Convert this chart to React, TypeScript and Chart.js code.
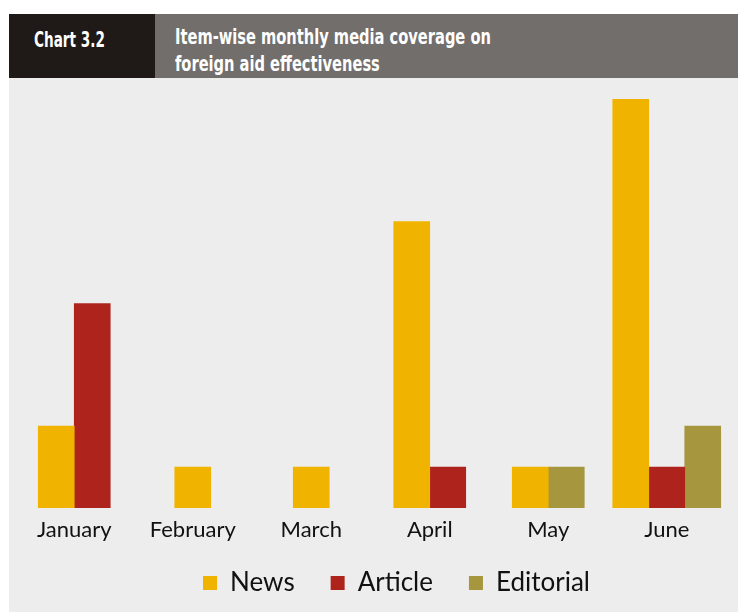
import React, { useEffect, useRef } from "react";
import { Chart, registerables } from "chart.js";

Chart.register(...registerables);

const months = ["January", "February", "March", "April", "May", "June"];
const newsValues = [2, 1, 1, 7, 1, 10];
const articleValues = [5, null, null, 1, null, 1];
const editorialValues = [null, null, null, null, 1, 2];
const seriesNames = ["News", "Article", "Editorial"];
const chartLabel = "Chart 3.2";
const titleLines = ["Item-wise monthly media coverage on", "foreign aid effectiveness"];

const COLORS = ["#f0b400", "#ae241c", "#a6973e"];

const legendShift = {
  id: "legendShift",
  afterLayout(chart: any) {
    const lg = chart.legend;
    if (lg) {
      lg.left += 26;
      lg.right += 26;
    }
  },
};

export default function App() {
  const ref = useRef<HTMLCanvasElement | null>(null);

  useEffect(() => {
    if (!ref.current) return;
    const chart = new Chart(ref.current, {
      type: "bar",
      data: {
        labels: months,
        datasets: [newsValues, articleValues, editorialValues].map((d, i) => ({
          label: seriesNames[i],
          data: d,
          backgroundColor: COLORS[i],
          borderWidth: 0,
          barThickness: 36,
          skipNull: true,
        })) as any,
      },
      options: {
        animation: false,
        responsive: false,
        maintainAspectRatio: false,
        layout: { padding: { top: 21, left: 6, right: 12, bottom: 6 } },
        scales: {
          x: {
            grid: { display: false, drawTicks: false },
            border: { display: false },
            ticks: {
              color: "#111",
              font: { family: "Lato, 'Open Sans', sans-serif", size: 22 },
              padding: 9,
            },
            afterFit(scale: any) {
              scale.height = 26;
              scale._computeLabelArea = () => undefined;
            },
          } as any,
          y: { display: false, min: 0, max: 10 },
        },
        plugins: {
          legend: {
            position: "bottom",
            labels: {
              boxWidth: 14,
              boxHeight: 14,
              padding: 36,
              color: "#111",
              font: { family: "Lato, 'Open Sans', sans-serif", size: 26 },
            },
          },
          tooltip: { enabled: false },
        },
      },
      plugins: [legendShift],
    });
    return () => chart.destroy();
  }, []);

  const headFont = "'Liberation Sans Narrow', 'DejaVu Sans Condensed', 'DejaVu Sans', sans-serif";

  return (
    <div style={{ position: "absolute", left: 0, top: 0, width: 738, height: 612, background: "#fff", overflow: "hidden" }}>
      <div
        style={{
          position: "absolute",
          left: 9,
          top: 14,
          width: 146,
          height: 64,
          background: "#1f1a17",
          color: "#fff",
          fontFamily: headFont,
          fontWeight: 700,
          fontSize: 21,
          lineHeight: "26px",
          boxSizing: "border-box",
          paddingLeft: 25,
          paddingTop: 13,
          whiteSpace: "nowrap",
        }}
      >
        <span style={{ display: "inline-block", transform: "scaleX(0.72)", transformOrigin: "left center" }}>{chartLabel}</span>
      </div>
      <div
        style={{
          position: "absolute",
          left: 155,
          top: 14,
          width: 583,
          height: 64,
          background: "#716e6b",
          color: "#fff",
          fontFamily: headFont,
          fontWeight: 700,
          fontSize: 22,
          lineHeight: "26.5px",
          boxSizing: "border-box",
          paddingLeft: 20,
          paddingTop: 10,
          whiteSpace: "nowrap",
        }}
      >
        <div style={{ transform: "scaleX(0.74)", transformOrigin: "left center" }}>{titleLines[0]}</div>
        <div style={{ transform: "scaleX(0.74)", transformOrigin: "left center" }}>{titleLines[1]}</div>
      </div>
      <div style={{ position: "absolute", left: 9, top: 78, width: 729, height: 534, background: "#ededed" }}>
        <canvas ref={ref} width={729} height={534} style={{ display: "block" }} />
      </div>
    </div>
  );
}
